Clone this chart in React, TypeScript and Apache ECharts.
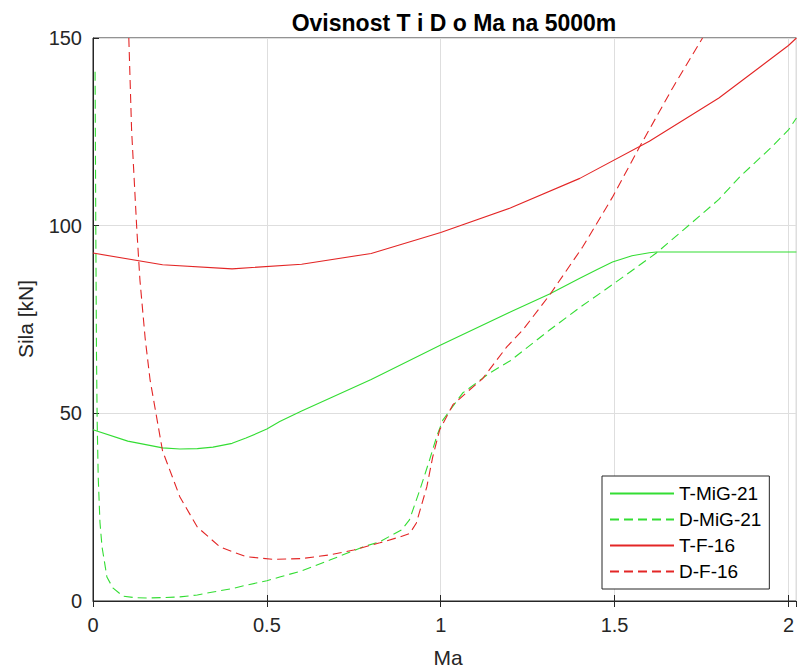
import React, { useEffect, useRef } from "react";
import * as echarts from "echarts";

const TITLE = "Ovisnost T i D o Ma na 5000m";
const X_NAME = "Ma";
const Y_NAME = "Sila [kN]";
const SERIES_NAMES = ["T-MiG-21", "D-MiG-21", "T-F-16", "D-F-16"];

// Ma, thrust/drag [kN]
const tMig21: number[][] = [
  [0, 45.6], [0.1, 42.6], [0.2, 40.8], [0.25, 40.5], [0.3, 40.6], [0.345, 41.0],
  [0.4, 42.0], [0.44, 43.4], [0.5, 45.8], [0.537, 47.8], [0.6, 50.6], [0.681, 54.0],
  [0.8, 59.0], [1.0, 68.2], [1.2, 77.0], [1.313, 81.8], [1.4, 86.0], [1.45, 88.3],
  [1.494, 90.3], [1.55, 92.0], [1.6, 92.8], [1.62, 93.0], [2.023, 93.0],
];

const dMig21: number[][] = [
  [0.006, 141], [0.008, 100], [0.01, 66], [0.012, 48], [0.015, 33], [0.02, 21],
  [0.026, 14.4], [0.04, 6.4], [0.057, 3.5], [0.086, 1.3], [0.12, 0.9], [0.155, 0.8],
  [0.2, 0.9], [0.25, 1.1], [0.3, 1.6], [0.345, 2.4], [0.4, 3.3], [0.44, 4.2],
  [0.5, 5.4], [0.537, 6.4], [0.6, 8.0], [0.681, 10.9], [0.776, 14.4], [0.825, 15.8],
  [0.888, 19.0], [0.91, 21.6], [0.94, 29.6], [0.968, 37.6], [0.988, 43.7], [1.006, 48.2],
  [1.063, 55.4], [1.14, 60.7], [1.2, 64.0], [1.313, 72.2], [1.4, 78.2], [1.5, 84.7],
  [1.62, 92.7], [1.716, 100.3], [1.8, 107.0], [1.86, 113.0], [1.95, 120.8], [2.0, 125.5],
  [2.023, 128.7],
];

const tF16: number[][] = [
  [0, 92.7], [0.2, 89.6], [0.4, 88.5], [0.6, 89.7], [0.8, 92.6], [1.0, 98.2],
  [1.2, 104.7], [1.4, 112.6], [1.6, 122.5], [1.8, 134.0], [2.0, 148.0], [2.023, 150.0],
];

const dF16: number[][] = [
  [0.103, 150], [0.111, 125.5], [0.126, 99], [0.135, 85.5], [0.15, 70], [0.164, 59],
  [0.2, 40], [0.25, 27.7], [0.3, 19.7], [0.365, 14.4], [0.44, 11.8], [0.52, 11.1],
  [0.6, 11.3], [0.681, 12.3], [0.75, 13.6], [0.825, 15.5], [0.88, 17.0], [0.911, 18.0],
  [0.93, 20.8], [0.96, 30.4], [0.977, 38.4], [0.997, 45.6], [1.035, 52.3], [1.08, 56.0],
  [1.12, 59.2], [1.19, 67.7], [1.236, 72.2], [1.313, 81.5], [1.408, 94.3], [1.494, 107.6],
  [1.572, 121.0], [1.667, 136.7], [1.753, 150],
];

const X_MIN = 0;
const X_MAX = 2.023;
const X_INTERVAL = 0.5;
const Y_MIN = 0;
const Y_MAX = 150;
const Y_INTERVAL = 50;

const GREEN = "#33dd33";
const RED = "#e32626";
const FONT = "'Liberation Sans', Arial, Helvetica, sans-serif";
const AXIS_COLOR = "#262626";

export default function App() {
  const ref = useRef<HTMLDivElement>(null);

  useEffect(() => {
    if (!ref.current) return;
    const chart = echarts.init(ref.current, undefined, { renderer: "svg" });
    const dash = [9, 5];
    const mk = (name: string, data: number[][], color: string, dashed: boolean) => ({
      name,
      type: "line",
      data,
      xAxisIndex: 0,
      yAxisIndex: 0,
      symbol: "none",
      showSymbol: false,
      smooth: false,
      itemStyle: { color },
      lineStyle: { color, width: 1.1, type: dashed ? dash : "solid" },
      emphasis: { disabled: true },
    });

    chart.setOption({
      animation: false,
      backgroundColor: "#ffffff",
      textStyle: { fontFamily: FONT },
      title: {
        text: TITLE,
        left: 449,
        top: 6,
        textAlign: "center",
        textStyle: { fontFamily: FONT, fontWeight: "bold", fontSize: 23, color: "#000000" },
      },
      grid: {
        left: 93,
        top: 38,
        right: 0,
        bottom: 70,
        show: true,
        borderColor: AXIS_COLOR,
        borderWidth: 1,
        backgroundColor: "#ffffff",
      },
      legend: {
        data: SERIES_NAMES,
        orient: "vertical",
        left: 602,
        top: 476,
        padding: [8, 8, 8, 7],
        itemWidth: 64,
        itemHeight: 14,
        itemGap: 7,
        borderColor: AXIS_COLOR,
        borderWidth: 1,
        backgroundColor: "#ffffff",
        itemStyle: { opacity: 0, borderWidth: 0 },
        textStyle: { fontFamily: FONT, fontSize: 19, color: "#000000", lineHeight: 18 },
      },
      xAxis: [
        {
          type: "value",
          min: X_MIN,
          max: X_MAX,
          interval: X_INTERVAL,
          position: "bottom",
          axisLine: { show: true, onZero: false, lineStyle: { color: AXIS_COLOR, width: 1 } },
          axisTick: { show: true, inside: true, length: 6, lineStyle: { color: AXIS_COLOR } },
          axisLabel: {
            show: true,
            showMaxLabel: false,
            margin: 14,
            fontSize: 20,
            color: AXIS_COLOR,
            fontFamily: FONT,
            formatter: (v: number) => String(v),
          },
          splitLine: { show: true, lineStyle: { color: "#dedede", width: 1 } },
        },
        {
          type: "value",
          min: X_MIN,
          max: X_MAX,
          interval: X_INTERVAL,
          position: "top",
          axisLine: { show: false },
          axisTick: { show: true, inside: true, length: 6, lineStyle: { color: AXIS_COLOR } },
          axisLabel: { show: false },
          splitLine: { show: false },
        },
      ],
      yAxis: {
        type: "value",
        min: Y_MIN,
        max: Y_MAX,
        interval: Y_INTERVAL,
        axisLine: { show: true, onZero: false, lineStyle: { color: AXIS_COLOR, width: 1 } },
        axisTick: { show: true, inside: true, length: 6, lineStyle: { color: AXIS_COLOR } },
        axisLabel: { margin: 11, fontSize: 20, color: AXIS_COLOR, fontFamily: FONT },
        splitLine: { show: true, lineStyle: { color: "#dedede", width: 1 } },
      },
      graphic: [
        {
          type: "text",
          x: 448,
          y: 657,
          style: {
            text: X_NAME,
            fontSize: 21,
            fontFamily: FONT,
            fill: AXIS_COLOR,
            align: "center",
            verticalAlign: "middle",
          },
        },
        {
          type: "text",
          x: 25,
          y: 319,
          rotation: Math.PI / 2,
          style: {
            text: Y_NAME,
            fontSize: 21,
            fontFamily: FONT,
            fill: AXIS_COLOR,
            align: "center",
            verticalAlign: "middle",
          },
        },
      ],
      series: [
        mk(SERIES_NAMES[0], tMig21, GREEN, false),
        mk(SERIES_NAMES[1], dMig21, GREEN, true),
        mk(SERIES_NAMES[2], tF16, RED, false),
        mk(SERIES_NAMES[3], dF16, RED, true),
      ],
    });

    return () => chart.dispose();
  }, []);

  return (
    <div
      ref={ref}
      style={{ position: "fixed", left: 0, top: 0, width: 797, height: 671, background: "#fff" }}
    />
  );
}
